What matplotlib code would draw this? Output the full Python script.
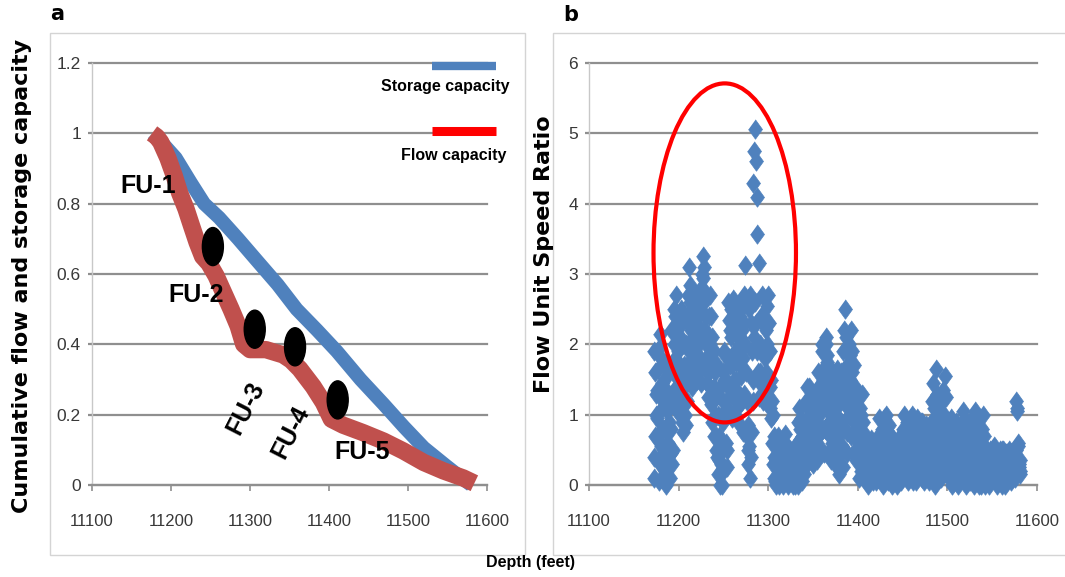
import numpy as np
import matplotlib
matplotlib.use("Agg")
import matplotlib.pyplot as plt
from matplotlib.patches import Ellipse, Rectangle
from matplotlib.lines import Line2D

# ---------------- data ----------------
storage_depth = [11177, 11190, 11206, 11225, 11242, 11261, 11285, 11308, 11335, 11359,
                 11385, 11410, 11440, 11469, 11495, 11520, 11548, 11565, 11580]
storage_cap = [1.00, 0.97, 0.93, 0.86, 0.80, 0.76, 0.70, 0.64, 0.57, 0.50,
               0.44, 0.38, 0.30, 0.23, 0.165, 0.106, 0.055, 0.025, 0.0]

flow_depth = [11176, 11182, 11187, 11196, 11204, 11211, 11219, 11226, 11233, 11240,
              11248, 11257, 11266, 11276, 11285, 11292, 11300, 11320, 11342, 11352,
              11363, 11380, 11393, 11403, 11418, 11443, 11469, 11494, 11520, 11545,
              11570, 11584]
flow_cap = [1.0, 0.99, 0.975, 0.93, 0.88, 0.83, 0.785, 0.737, 0.69, 0.65,
            0.63, 0.595, 0.55, 0.50, 0.452, 0.40, 0.385, 0.385, 0.37, 0.355,
            0.33, 0.28, 0.234, 0.187, 0.17, 0.149, 0.125, 0.097, 0.064, 0.04,
            0.02, 0.005]

fu_dot_depth = [11253, 11306, 11357, 11411]
fu_dot_value = [0.678, 0.443, 0.393, 0.242]

fu_names = ["FU-1", "FU-2", "FU-3", "FU-4", "FU-5"]
fu_label_depth = [11171, 11232, 11294, 11351, 11442]
fu_label_value = [0.85, 0.54, 0.22, 0.151, 0.094]
fu_label_rot = [0, 0, 63, 63, 0]

# Flow unit speed ratio log: samples on whole feet and on half feet, from 11172 ft
speed_start_depth = 11172
ratio_whole_ft = [
    0.1, 0.4, 0.7, 1.0, 1.35, 1.65, 1.95, 2.15, 1.8, 1.45,      # 11172
    1.1, 0.8, 0.5, 0.2, 0.0, 0.35, 0.6, 0.9, 0.1, 0.45,         # 11182
    0.8, 1.2, 1.6, 2.0, 2.4, 2.7, 2.3, 1.9, 1.5, 1.1,           # 11192
    1.4, 1.1, 0.9, 0.75, 1.2, 1.6, 2.0, 2.4, 2.7, 2.3,          # 11202
    3.1, 2.6, 2.2, 1.8, 1.5, 1.9, 2.3, 2.7, 2.4, 2.0,           # 11212
    1.6, 2.0, 2.5, 2.8, 3.0, 3.25, 3.1, 2.75, 2.4, 2.0,         # 11222
    1.6, 1.25, 1.6, 2.0, 2.4, 2.1, 1.7, 1.9, 1.4, 1.0,          # 11232
    0.7, 0.4, 0.15, 0.35, 0.0, 0.3, 0.6, 0.9, 1.2, 1.5,         # 11242
    1.85, 1.5, 1.1, 1.4, 1.8, 2.2, 2.5, 2.1, 1.7, 2.65,         # 11252
    2.3, 1.9, 1.5, 1.1, 0.9, 1.3, 1.7, 2.1, 2.5, 2.2,           # 11262
    1.8, 2.7, 3.13, 2.6, 0.7, 0.5, 0.3, 0.55, 0.1, 0.4,         # 11272
    0.75, 4.3, 4.75, 5.06, 4.6, 4.1, 3.57, 1.6, 3.15, 2.0,      # 11282
    2.4, 2.7, 2.3, 1.9, 1.5, 1.2, 1.6, 2.0, 2.7, 2.3,           # 11292
    1.9, 1.5, 1.2, 1.0, 0.7, 0.4, 0.1, 0.0, 0.3, 0.55,          # 11302
    0.3, 0.1, 0.4, 0.6, 0.35, 0.15, 0.45, 0.73, 0.5, 0.2,       # 11312
    0.0, 0.3, 0.5, 0.2, 0.05, 0.35, 0.5, 0.25, 0.0, 0.3,        # 11322
    0.6, 0.9, 1.1, 0.8, 0.5, 0.2, 0.05, 0.3, 0.6, 0.9,          # 11332
    1.2, 1.4, 1.1, 0.8, 1.4, 1.0, 0.7, 0.4, 0.6, 0.9,           # 11342
    1.2, 0.9, 0.6, 0.35, 0.7, 1.0, 1.3, 1.6, 1.9, 1.5,          # 11352
    1.2, 1.6, 2.0, 2.1, 1.85, 1.5, 1.1, 0.7, 0.35, 0.6,         # 11362
    0.9, 1.2, 1.5, 1.3, 1.0, 0.7, 0.4, 0.15, 0.5, 0.9,          # 11372
    1.3, 1.6, 1.9, 2.2, 2.5, 2.1, 1.7, 1.4, 1.0, 1.5,           # 11382
    2.2, 1.9, 1.6, 1.3, 1.7, 1.4, 1.1, 0.8, 0.5, 0.1,           # 11392
    0.4, 0.7, 1.0, 1.3, 0.9, 0.6, 0.3, 0.05, 0.35, 0.6,         # 11402
    0.4, 0.1, 0.3, 0.55, 0.3, 0.05, 0.35, 0.6, 0.4, 0.2,        # 11412
    0.45, 0.7, 0.95, 0.7, 0.45, 0.2, 0.0, 0.3, 0.6, 0.85,       # 11422
    1.0, 0.75, 0.5, 0.25, 0.5, 0.7, 0.45, 0.2, 0.4, 0.6,        # 11432
    0.35, 0.1, 0.0, 0.25, 0.5, 0.7, 0.5, 0.25, 0.55, 0.8,       # 11442
    1.0, 0.75, 0.5, 0.25, 0.05, 0.3, 0.6, 0.85, 1.0, 0.7,       # 11452
    0.45, 0.2, 0.45, 0.7, 0.95, 0.7, 0.4, 0.15, 0.4, 0.65,      # 11462
    0.9, 0.6, 0.35, 0.1, 0.3, 0.55, 0.8, 0.5, 0.25, 0.6,        # 11472
    0.9, 1.2, 1.45, 1.1, 0.0, 1.65, 1.3, 0.95, 0.6, 0.3,        # 11482
    0.6, 0.9, 1.2, 0.8, 1.0, 1.55, 1.25, 0.9, 0.6, 0.3,         # 11492
    0.1, 0.35, 0.6, 0.85, 0.55, 0.3, 0.1, 0.4, 0.7, 0.5,        # 11502
    0.25, 0.05, 0.3, 0.6, 0.85, 1.05, 0.8, 0.5, 0.25, 0.0,      # 11512
    0.3, 0.55, 0.8, 0.5, 0.25, 0.5, 0.75, 0.5, 0.8, 1.05,       # 11522
    0.75, 0.5, 0.25, 0.0, 0.3, 0.0, 0.5, 0.8, 1.0, 0.7,         # 11532
    0.4, 0.15, 0.4, 0.2, 0.0, 0.25, 0.5, 0.3, 0.1, 0.35,        # 11542
    0.55, 0.35, 0.15, 0.0, 0.2, 0.45, 0.3, 0.1, 0.3, 0.5,       # 11552
    0.3, 0.1, 0.25, 0.45, 0.2, 0.05, 0.3, 0.5, 0.35, 0.15,      # 11562
    0.3, 0.45, 0.25, 0.1, 0.3, 1.2, 1.05, 0.55, 0.25, 0.2,      # 11572
]
ratio_half_ft = [
    1.9, 1.6, 1.3, 0.95, 0.65, 0.35, 0.05, 0.3, 0.55, 0.8,      # 11172.5
    1.2, 1.5, 1.7, 1.35, 1.05, 0.75, 1.3, 1.6, 1.25, 2.2,       # 11182.5
    0.3, 0.5, 2.5, 2.2, 1.8, 1.4, 1.05, 1.3, 1.7, 2.1,          # 11192.5
    2.5, 2.3, 2.0, 1.7, 1.4, 1.0, 0.85, 1.2, 1.5, 1.9,          # 11202.5
    2.85, 2.0, 1.65, 1.4, 2.1, 2.5, 2.0, 1.7, 1.5, 1.8,         # 11212.5
    2.25, 1.8, 1.45, 1.7, 2.1, 2.95, 2.6, 2.2, 1.8, 1.45,       # 11222.5
    2.0, 2.4, 2.7, 1.4, 1.15, 0.9, 1.2, 0.7, 1.6, 0.5,          # 11232.5
    1.7, 1.35, 1.0, 0.7, 0.45, 0.15, 0.0, 1.6, 1.9, 1.05,       # 11242.5
    0.6, 0.25, 0.5, 2.6, 2.35, 1.7, 1.3, 0.95, 1.25, 1.5,       # 11252.5
    1.0, 1.35, 1.75, 2.15, 2.55, 2.4, 2.0, 1.55, 1.2, 0.75,     # 11262.5
    1.3, 2.3, 2.0, 1.6, 1.2, 0.85, 2.5, 2.7, 2.3, 1.9,          # 11272.5
    1.5, 1.2, 2.1, 2.6, 2.3, 1.9, 1.5, 1.25, 1.6, 2.35,         # 11282.5
    1.9, 1.5, 1.2, 1.4, 1.8, 2.2, 2.55, 2.3, 1.9, 1.4,          # 11292.5
    1.1, 0.95, 0.6, 0.3, 0.1, 0.05, 0.35, 0.6, 0.7, 0.45,       # 11302.5
    0.0, 0.25, 0.55, 0.4, 0.0, 0.3, 0.6, 0.3, 0.05, 0.45,       # 11312.5
    0.15, 0.45, 0.05, 0.4, 0.2, 0.0, 0.15, 0.45, 0.15, 0.5,     # 11322.5
    0.25, 0.0, 0.4, 0.65, 0.95, 0.7, 0.4, 0.75, 0.15, 0.4,      # 11332.5
    0.6, 0.3, 0.55, 1.2, 0.5, 0.35, 1.2, 1.0, 0.3, 0.45,        # 11342.5
    0.5, 1.35, 1.0, 1.6, 1.4, 0.5, 0.8, 2.0, 1.1, 0.8,          # 11352.5
    0.45, 0.8, 1.35, 1.75, 1.3, 0.9, 0.5, 1.35, 1.0, 1.3,       # 11362.5
    1.6, 0.6, 0.3, 0.75, 1.65, 1.45, 1.15, 0.8, 1.35, 1.6,      # 11372.5
    0.55, 0.25, 0.8, 1.15, 1.5, 0.45, 0.75, 1.15, 2.0, 1.85,    # 11382.5
    0.7, 1.05, 0.45, 0.9, 1.2, 0.65, 0.35, 1.3, 0.85, 0.55,     # 11392.5
    1.1, 0.2, 0.5, 0.75, 0.2, 0.45, 0.6, 0.4, 0.15, 0.0,        # 11402.5
    0.15, 0.45, 0.65, 0.1, 0.5, 0.6, 0.15, 0.2, 0.05, 0.5,      # 11412.5
    0.1, 0.35, 0.55, 0.25, 0.05, 0.8, 0.5, 0.95, 0.25, 0.45,    # 11422.5
    0.3, 0.05, 0.85, 0.65, 0.1, 0.3, 0.0, 0.65, 0.1, 0.2,       # 11432.5
    0.6, 0.45, 0.4, 0.05, 0.2, 0.35, 0.05, 0.7, 0.15, 0.35,     # 11442.5
    0.15, 0.4, 0.9, 0.65, 0.45, 0.8, 0.15, 0.4, 0.2, 0.05,      # 11452.5
    0.8, 0.6, 0.05, 0.3, 0.5, 0.2, 0.8, 0.6, 0.9, 0.1,          # 11462.5
    0.3, 0.05, 0.75, 0.55, 0.85, 0.15, 0.35, 0.05, 0.7, 0.35,   # 11472.5
    0.2, 0.55, 0.8, 0.35, 0.65, 0.95, 0.4, 0.15, 1.15, 0.8,     # 11482.5
    0.1, 0.35, 0.55, 1.35, 0.4, 0.7, 0.2, 0.45, 0.15, 0.75,     # 11492.5
    0.7, 0.95, 0.2, 0.0, 0.3, 0.75, 0.6, 0.9, 0.15, 0.0,        # 11502.5
    0.75, 0.55, 0.85, 0.15, 0.4, 0.3, 0.1, 0.9, 0.65, 0.45,     # 11512.5
    0.7, 0.1, 0.35, 0.05, 0.7, 0.95, 0.2, 0.0, 0.3, 0.55,       # 11522.5
    0.2, 0.9, 0.7, 0.45, 0.65, 0.25, 0.15, 0.35, 0.55, 0.2,     # 11532.5
    0.0, 0.3, 0.5, 0.1, 0.4, 0.05, 0.15, 0.45, 0.5, 0.2,        # 11542.5
    0.1, 0.5, 0.3, 0.4, 0.05, 0.25, 0.5, 0.4, 0.0, 0.2,         # 11552.5
    0.5, 0.4, 0.0, 0.2, 0.45, 0.35, 0.1, 0.2, 0.05, 0.45,       # 11562.5
    0.1, 0.2, 0.45, 0.35, 0.5, 1.1, 0.6, 0.3, 0.15, 0.35,       # 11572.5
]
depth_whole_ft = speed_start_depth + np.arange(len(ratio_whole_ft))
depth_half_ft = speed_start_depth + 0.5 + np.arange(len(ratio_half_ft))

# circled zone in panel b: centre depth, centre ratio, width (ft), height (ratio)
circle_zone = (11251.5, 3.3, 159, 4.82)

depth_ticks = [11100, 11200, 11300, 11400, 11500, 11600]
left_yticks = [0, 0.2, 0.4, 0.6, 0.8, 1, 1.2]
right_yticks = [0, 1, 2, 3, 4, 5, 6]

# ---------------- style ----------------
NARROW = ['Liberation Sans', 'DejaVu Sans']
plt.rcParams['font.family'] = NARROW

BLUE = '#4f81bd'
RED = '#c0504d'
GRID = '#8f8f8f'

W, H = 1065, 577
fig = plt.figure(figsize=(W / 100, H / 100), dpi=100)
fig.patch.set_facecolor('white')


def fx(px):
    return px / W


def fy(py):
    return 1 - py / H


# panel frames
fig.add_artist(Rectangle((fx(50), fy(555)), fx(525) - fx(50), fy(33) - fy(555),
                         transform=fig.transFigure, fill=False, ec='#d4d4d4', lw=1))
fig.add_artist(Rectangle((fx(553), fy(555)), fx(1075) - fx(553), fy(33) - fy(555),
                         transform=fig.transFigure, fill=False, ec='#d4d4d4', lw=1))

axL = fig.add_axes([fx(92), fy(485), (487 - 92) / W, (485 - 63) / H])
axR = fig.add_axes([fx(589), fy(485), (1037 - 589) / W, (485 - 63) / H])


def style(ax, yticks):
    ax.set_xlim(11100, 11600)
    ax.set_ylim(yticks[0], yticks[-1])
    ax.set_xticks(depth_ticks)
    ax.set_xticklabels([str(t) for t in depth_ticks])
    ax.set_yticks(yticks)
    ax.set_yticklabels([f"{t:g}" for t in yticks])
    ax.set_facecolor('none')
    ax.grid(axis='y', color=GRID, lw=1.6)
    ax.grid(axis='x', visible=False)
    for gl in ax.get_ygridlines():
        gl.set_clip_on(False)
    ax.set_axisbelow(True)
    for s in ['top', 'right']:
        ax.spines[s].set_visible(False)
    ax.spines['left'].set_color('#c8c8c8')
    ax.spines['left'].set_linewidth(1.0)
    ax.spines['bottom'].set_color(GRID)
    ax.spines['bottom'].set_linewidth(1.6)
    ax.tick_params(axis='x', direction='out', length=4, width=1.2, color=GRID,
                   pad=17, labelsize=12, labelcolor='#383838')
    ax.tick_params(axis='y', direction='out', length=3, width=1.6, color=GRID,
                   pad=5, labelsize=12.5, labelcolor='#383838')


style(axL, left_yticks)
style(axR, right_yticks)

# ---------------- panel a ----------------
axL.plot(storage_depth, storage_cap, color=BLUE, lw=10,
         solid_capstyle='butt', solid_joinstyle='round', clip_on=False, zorder=3)
axL.plot(flow_depth, flow_cap, color=RED, lw=12.5,
         solid_capstyle='butt', solid_joinstyle='round', clip_on=False, zorder=4)

dot_w = 21 / 0.79
dot_h = 38 / 351.0
for d, v in zip(fu_dot_depth, fu_dot_value):
    axL.add_patch(Ellipse((d, v), dot_w, dot_h, fc='black', ec='black', zorder=5))

for name, d, v, r in zip(fu_names, fu_label_depth, fu_label_value, fu_label_rot):
    axL.text(d, v, name, fontsize=18, fontweight='bold', rotation=r,
             ha='center', va='center', rotation_mode='anchor', zorder=6)

# legend
fig.add_artist(Line2D([fx(432), fx(496)], [fy(66), fy(66)], transform=fig.transFigure,
                      color=BLUE, lw=6, solid_capstyle='butt'))
fig.add_artist(Line2D([fx(432), fx(496)], [fy(131), fy(131)], transform=fig.transFigure,
                      color='#ff0000', lw=6.5, solid_capstyle='butt'))
fig.text(fx(510), fy(86), "Storage capacity", ha='right', va='center',
         fontsize=11.5, fontweight='bold')
fig.text(fx(506), fy(156), "Flow capacity", ha='right', va='center',
         fontsize=11.5, fontweight='bold')

# ---------------- panel b ----------------
diamond = [(0, 1), (0.72, 0), (0, -1), (-0.72, 0)]
for dd, rr in ((depth_whole_ft, ratio_whole_ft), (depth_half_ft, ratio_half_ft)):
    axR.plot(dd, rr, ls='none', marker=diamond, ms=14,
             mfc=BLUE, mec=BLUE, mew=0.5, clip_on=False, zorder=3)
cx, cy, cw, ch = circle_zone
axR.add_patch(Ellipse((cx, cy), cw, ch, fill=False, ec='#ff0000', lw=3, zorder=4))

# ---------------- labels ----------------
fig.text(fx(57), fy(14), "a", ha='center', va='center', fontsize=15,
         fontweight='bold', family=['DejaVu Sans'])
fig.text(fx(571), fy(15), "b", ha='center', va='center', fontsize=15,
         fontweight='bold', family=['DejaVu Sans'])
fig.text(fx(22), fy(276), "Cumulative flow and storage capacity", rotation=90,
         ha='center', va='center', fontsize=16, fontweight='bold', family=['DejaVu Sans'])
fig.text(fx(544), fy(254), "Flow Unit Speed Ratio", rotation=90,
         ha='center', va='center', fontsize=16, fontweight='bold', family=['DejaVu Sans'])
fig.text(fx(531), fy(562), "Depth (feet)", ha='center', va='center',
         fontsize=11.5, fontweight='bold')

fig.savefig("out.png", dpi=100)
